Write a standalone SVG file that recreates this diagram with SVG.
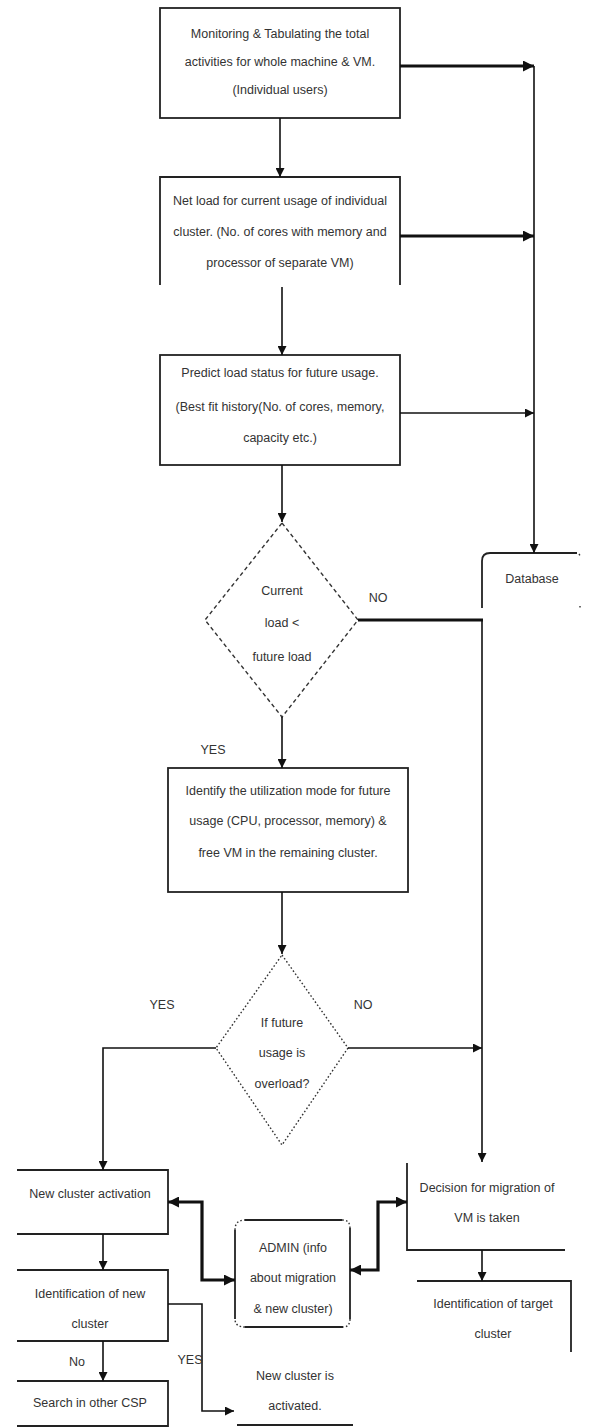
<svg xmlns="http://www.w3.org/2000/svg" width="589" height="1428" viewBox="0 0 589 1428">
<style>
.box{fill:none;stroke:#222;stroke-width:1.8}
.ln{fill:none;stroke:#111;stroke-width:1.6}
.thick{fill:none;stroke:#111;stroke-width:3.2}
.dash{fill:none;stroke:#333;stroke-width:1.4;stroke-dasharray:4 3}
.dot{fill:none;stroke:#333;stroke-width:1.4;stroke-dasharray:1.6 2.2}
text{font-family:"Liberation Sans",Arial,sans-serif;font-size:12.5px;fill:#333;text-anchor:middle}
</style>
<defs>
<marker id="a" markerUnits="userSpaceOnUse" markerWidth="9" markerHeight="9" refX="9" refY="4.5" orient="auto-start-reverse" viewBox="0 0 9 9">
<path d="M0,0 L9,4.5 L0,9 z" fill="#111"/>
</marker>
<marker id="ab" markerUnits="userSpaceOnUse" markerWidth="11" markerHeight="11" refX="11" refY="5.5" orient="auto-start-reverse" viewBox="0 0 11 11">
<path d="M0,0 L11,5.5 L0,11 z" fill="#111"/>
</marker>
</defs>
<rect width="589" height="1428" fill="#fff"/>

<g id="n1">
<rect class="box" x="160" y="8" width="240" height="110"/>
<text x="280" y="38">Monitoring &amp; Tabulating the total</text>
<text x="280" y="66">activities for whole machine &amp; VM.</text>
<text x="280" y="94">(Individual users)</text>
</g>

<g id="n2">
<path class="box" d="M160,285 L160,177 L400,177 L400,285"/>
<text x="280" y="205">Net load for current usage of individual</text>
<text x="280" y="236">cluster. (No. of cores with memory and</text>
<text x="280" y="267">processor of separate VM)</text>
</g>

<g id="n3">
<rect class="box" x="160" y="355" width="240" height="110"/>
<text x="280" y="377">Predict load status for future usage.</text>
<text x="280" y="411">(Best fit history(No. of cores, memory,</text>
<text x="280" y="442">capacity etc.)</text>
</g>

<g id="db">
<path class="box" d="M482,608 L482,561 Q482,553 490,553 L577,553"/>
<path class="dot" d="M579,554 L581,557 M580,606 L580,609"/>
<text x="532" y="583">Database</text>
</g>

<g id="d1">
<polygon class="dash" points="282,523 358,620 282,717 205,620"/>
<text x="282" y="595">Current</text>
<text x="282" y="627">load &lt;</text>
<text x="282" y="661">future load</text>
</g>

<g id="n4">
<rect class="box" x="168" y="768" width="240" height="124"/>
<text x="288" y="795">Identify the utilization mode for future</text>
<text x="288" y="825">usage (CPU, processor, memory) &amp;</text>
<text x="288" y="857">free VM in the remaining cluster.</text>
</g>

<g id="d2">
<polygon class="dot" points="282,955 348,1048 282,1145 216,1048"/>
<text x="282" y="1027">If future</text>
<text x="282" y="1057">usage is</text>
<text x="282" y="1088">overload?</text>
</g>

<g id="n5">
<path class="box" d="M17,1170 L168,1170 L168,1234 L17,1234"/>
<text x="90" y="1198">New cluster activation</text>
</g>

<g id="n6">
<path class="box" d="M17,1270 L168,1270 L168,1341 L17,1341"/>
<text x="90" y="1298">Identification of new</text>
<text x="90" y="1328">cluster</text>
</g>

<g id="n7">
<path class="box" d="M17,1381 L168,1381 L168,1426 L17,1426"/>
<text x="90" y="1407">Search in other CSP</text>
</g>

<g id="n8">
<path class="box" d="M237,1425 L353,1425"/>
<text x="295" y="1380">New cluster is</text>
<text x="295" y="1410">activated.</text>
</g>

<g id="admin">
<path class="box" d="M245,1220 L342,1220 M350,1228 L350,1319 M343,1327 L245,1327 M235,1319 L235,1230"/>
<path class="dot" d="M342,1220 Q350,1220 350,1228 M350,1319 Q350,1327 343,1327 M245,1327 Q235,1327 235,1319 M235,1230 Q235,1220 245,1220"/>
<text x="293" y="1252">ADMIN (info</text>
<text x="293" y="1282">about migration</text>
<text x="293" y="1313">&amp; new cluster)</text>
</g>

<g id="n9">
<path class="box" d="M407,1163 L407,1250 L565,1250"/>
<text x="487" y="1192">Decision for migration of</text>
<text x="487" y="1222">VM is taken</text>
</g>

<g id="n10">
<path class="box" d="M417,1281 L571,1281 L571,1352"/>
<text x="493" y="1308">Identification of target</text>
<text x="493" y="1338">cluster</text>
</g>

<g id="connectors">
<path class="ln" d="M280,118 L280,177" marker-end="url(#a)"/>
<path class="ln" d="M282,287 L282,355" marker-end="url(#a)"/>
<path class="ln" d="M282,465 L282,522" marker-end="url(#a)"/>
<path class="ln" d="M282,717 L282,768" marker-end="url(#a)"/>
<path class="ln" d="M282,892 L282,954" marker-end="url(#a)"/>
<path class="thick" d="M400,66 L534,66" marker-end="url(#ab)"/>
<path class="thick" d="M400,236 L534,236" marker-end="url(#ab)"/>
<path class="ln" d="M400,413 L534,413" marker-end="url(#a)"/>
<path class="ln" d="M534,66 L534,553" marker-end="url(#a)"/>
<path class="thick" d="M358,620 L483,620"/>
<path class="ln" d="M482,620 L482,1162" marker-end="url(#a)"/>
<path class="ln" d="M348,1048 L482,1048" marker-end="url(#a)"/>
<path class="ln" d="M216,1048 L103,1048 L103,1170" marker-end="url(#a)"/>
<path class="ln" d="M103,1234 L103,1270" marker-end="url(#a)"/>
<path class="ln" d="M103,1341 L103,1381" marker-end="url(#a)"/>
<path class="ln" d="M168,1304 L202,1304 L202,1411 L234,1411" marker-end="url(#a)"/>
<path class="ln" d="M482,1250 L482,1281" marker-end="url(#a)"/>
<path class="thick" d="M168,1202 L202,1202 L202,1280 L235,1280" marker-start="url(#ab)" marker-end="url(#ab)"/>
<path class="thick" d="M350,1270 L378,1270 L378,1202 L407,1202" marker-start="url(#ab)" marker-end="url(#ab)"/>
<text x="378" y="602">NO</text>
<text x="213" y="754">YES</text>
<text x="162" y="1009">YES</text>
<text x="363" y="1009">NO</text>
<text x="77" y="1366">No</text>
<text x="190" y="1364">YES</text>
</g>
</svg>
